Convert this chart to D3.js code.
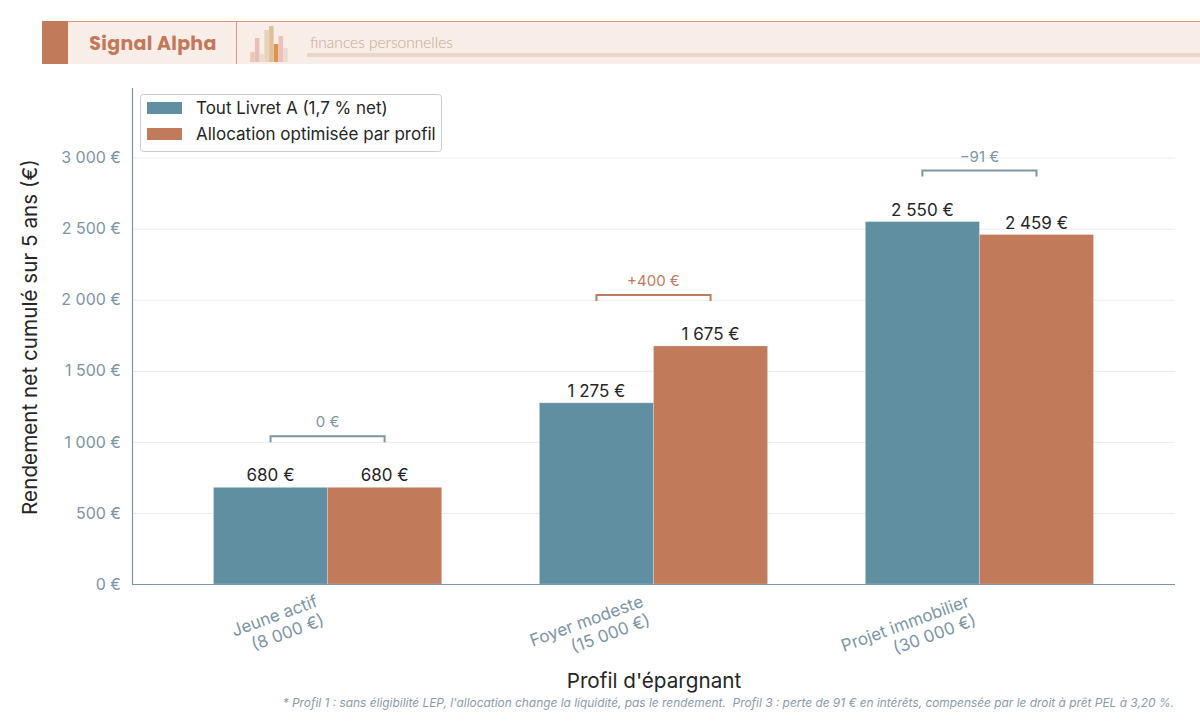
<!DOCTYPE html>
<html lang="fr">
<head>
<meta charset="utf-8">
<script src="https://cdn.jsdelivr.net/npm/d3@7/dist/d3.min.js"></script>
<style>
  html, body { margin: 0; padding: 0; background: #fff; }
  svg { display: block; }
</style>
</head>
<body>
<svg id="chart" width="1200" height="721"></svg>
<script>
// Rendement net cumulé sur 5 ans, par profil d'épargnant
const profiles = ["Jeune actif\n(8 000 €)", "Foyer modeste\n(15 000 €)", "Projet immobilier\n(30 000 €)"];
const seriesNames = ["Tout Livret A (1,7 % net)", "Allocation optimisée par profil"];
const livretA = [680, 1275, 2550];
const optimisee = [680, 1675, 2459];
const yTicks = [0, 500, 1000, 1500, 2000, 2500, 3000];
const iconBars = [10, 24, 8, 32, 36, 18, 26, 14];
const footnote = "* Profil 1 : sans éligibilité LEP, l'allocation change la liquidité, pas le rendement.  Profil 3 : perte de 91 € en intérêts, compensée par le droit à prêt PEL à 3,20 %.";

const colors = { blue: "#5f8fa0", orange: "#c17a5a", axis: "#7d95a5", grid: "#ebebeb", text: "#262626" };
const font = "Inter, 'Noto Sans', sans-serif";

const svg = d3.select("#chart");
const margin = { left: 132, right: 25, top: 88, bottom: 137 };
const width = 1200, height = 721;

// euro format, space as thousands separator
const fr = d3.formatLocale({ decimal: ",", thousands: "\u00a0", grouping: [3], currency: ["", " €"] });
const eur = v => fr.format(",d")(v) + "\u00a0€";
const signed = v => (v > 0 ? "+" : v < 0 ? "\u2212" : "") + fr.format(",d")(Math.abs(v)) + "\u00a0€";

// ---- Header band
const header = svg.append("g");
header.append("rect").attr("x", 42).attr("y", 21).attr("width", width - 42).attr("height", 43).attr("fill", "#f8ede7");
header.append("line").attr("x1", 42).attr("x2", width).attr("y1", 21.5).attr("y2", 21.5).attr("stroke", "#d59a80").attr("stroke-width", 1);
header.append("rect").attr("x", 42).attr("y", 21).attr("width", 26).attr("height", 43).attr("fill", "#c17a5a");
header.append("line").attr("x1", 236.5).attr("x2", 236.5).attr("y1", 21).attr("y2", 64).attr("stroke", "#d59a80").attr("stroke-width", 1);
header.append("text").attr("x", 153).attr("y", 50).attr("text-anchor", "middle")
  .style("font-family", "Poppins, Lato, 'Open Sans', sans-serif").style("font-weight", 700).style("font-size", "19px")
  .style("fill", "#c4785a").style("letter-spacing", "0.3px").text("Signal Alpha");
header.append("rect").attr("x", 307).attr("y", 53).attr("width", width - 307).attr("height", 4).attr("fill", "#e8d7c9");
header.append("text").attr("x", 310).attr("y", 48)
  .style("font-family", "Lato, 'Open Sans', sans-serif").style("font-weight", 300).style("font-size", "15.5px")
  .style("fill", "#c6a78e").text("finances personnelles");

// small decorative bar icon
const iconX = d3.scaleBand().domain(d3.range(iconBars.length)).range([250, 288]).padding(0.05);
const iconFill = ["#e6c2a8", "#e8b4b0", "#e9d8c6", "#e3cdb2", "#dcb58a", "#d9822e", "#eab8b3", "#e4d9cc"];
header.append("g").selectAll("rect").data(iconBars).join("rect")
  .attr("x", (d, i) => iconX(i)).attr("width", iconX.bandwidth())
  .attr("y", d => 62 - d).attr("height", d => d)
  .attr("fill", (d, i) => iconFill[i]).attr("opacity", 0.85);

// ---- Scales
const x0 = d3.scaleBand().domain(profiles).range([margin.left, width - margin.right])
  .paddingInner(0.3).paddingOuter(0.25);
const x1 = d3.scaleBand().domain([0, 1]).range([0, x0.bandwidth()]);
const y = d3.scaleLinear().domain([0, 3490]).range([height - margin.bottom, margin.top]);

// gridlines
svg.append("g").selectAll("line").data(yTicks).join("line")
  .attr("x1", margin.left).attr("x2", width - margin.right)
  .attr("y1", d => y(d) + 0.5).attr("y2", d => y(d) + 0.5)
  .attr("stroke", colors.grid).attr("stroke-width", 1);

// bars
const groups = svg.append("g").selectAll("g").data(profiles).join("g")
  .attr("transform", d => `translate(${x0(d)},0)`);
groups.selectAll("rect")
  .data((d, i) => [livretA[i], optimisee[i]])
  .join("rect")
  .attr("x", (d, j) => x1(j)).attr("width", x1.bandwidth())
  .attr("y", d => y(d)).attr("height", d => y(0) - y(d))
  .attr("fill", (d, j) => j === 0 ? colors.blue : colors.orange)
  .attr("stroke", "#ffffff").attr("stroke-opacity", 0.25).attr("stroke-width", 1);
groups.selectAll("text.val")
  .data((d, i) => [livretA[i], optimisee[i]])
  .join("text").attr("class", "val")
  .attr("x", (d, j) => x1(j) + x1.bandwidth() / 2).attr("y", d => y(d) - 6)
  .attr("text-anchor", "middle")
  .style("font-family", font).style("font-size", "17px").style("fill", colors.text)
  .text(eur);

// delta brackets
profiles.forEach((p, i) => {
  const delta = optimisee[i] - livretA[i];
  const by = y(Math.max(livretA[i], optimisee[i])) - 51;
  const xa = x0(p) + x1(0) + x1.bandwidth() / 2;
  const xb = x0(p) + x1(1) + x1.bandwidth() / 2;
  const c = delta > 0 ? colors.orange : colors.axis;
  svg.append("path")
    .attr("d", `M${xa},${by + 6}V${by}H${xb}V${by + 6}`)
    .attr("fill", "none").attr("stroke", c).attr("stroke-width", 2);
  svg.append("text").attr("x", (xa + xb) / 2).attr("y", by - 9).attr("text-anchor", "middle")
    .style("font-family", font).style("font-size", "15px").style("fill", c)
    .text(signed(delta));
});

// y axis
const yAxis = svg.append("g").attr("transform", `translate(${margin.left},0)`)
  .call(d3.axisLeft(y).tickValues(yTicks).tickSize(0).tickPadding(11).tickFormat(eur));
yAxis.select(".domain").remove();
yAxis.selectAll("text").style("font-family", font).style("font-size", "16px").style("fill", colors.axis);
svg.append("line").attr("x1", margin.left + 0.5).attr("x2", margin.left + 0.5)
  .attr("y1", margin.top).attr("y2", y(0)).attr("stroke", colors.axis).attr("stroke-width", 1.2);

// x axis
svg.append("line").attr("x1", margin.left).attr("x2", width - margin.right)
  .attr("y1", y(0) + 0.5).attr("y2", y(0) + 0.5).attr("stroke", colors.axis).attr("stroke-width", 1.2);
const xLabels = svg.append("g").selectAll("g").data(profiles).join("g")
  .attr("transform", d => `translate(${x0(d) + x0.bandwidth() / 2 - 9},${y(0) + 22}) rotate(-20)`);
xLabels.each(function(d) {
  const t = d3.select(this).append("text").attr("text-anchor", "end")
    .style("font-family", font).style("font-size", "17px").style("fill", colors.axis);
  d.split("\n").forEach((l, k) => t.append("tspan").attr("x", 0).attr("y", k * 20).text(l));
});

// axis titles
svg.append("text").attr("transform", `translate(37,337) rotate(-90)`)
  .attr("text-anchor", "middle")
  .style("font-family", font).style("font-size", "20.7px").style("fill", colors.text)
  .text("Rendement net cumulé sur 5 ans (€)");
svg.append("text").attr("x", 654).attr("y", 688).attr("text-anchor", "middle")
  .style("font-family", font).style("font-size", "20.7px").style("fill", colors.text)
  .text("Profil d'épargnant");

// footnote
svg.append("text").attr("x", 1174).attr("y", 707).attr("text-anchor", "end")
  .style("font-family", font).style("font-style", "italic").style("font-size", "11.9px")
  .style("fill", "#8a9bab").style("white-space", "pre")
  .text(footnote);

// ---- Legend
const legend = svg.append("g").attr("transform", "translate(140,94)");
legend.append("rect").attr("x", 0.5).attr("y", 0.5).attr("width", 301).attr("height", 57).attr("rx", 3)
  .attr("fill", "#fff").attr("fill-opacity", 0.9).attr("stroke", "#cccccc");
seriesNames.forEach((name, i) => {
  const row = legend.append("g").attr("transform", `translate(7,${14 + i * 26})`);
  row.append("rect").attr("x", 0).attr("y", -6).attr("width", 35).attr("height", 12)
    .attr("fill", i === 0 ? colors.blue : colors.orange);
  row.append("text").attr("x", 49).attr("y", 0).attr("dy", "0.35em")
    .style("font-family", font).style("font-size", "17px").style("fill", colors.text).text(name);
});
</script>
</body>
</html>
